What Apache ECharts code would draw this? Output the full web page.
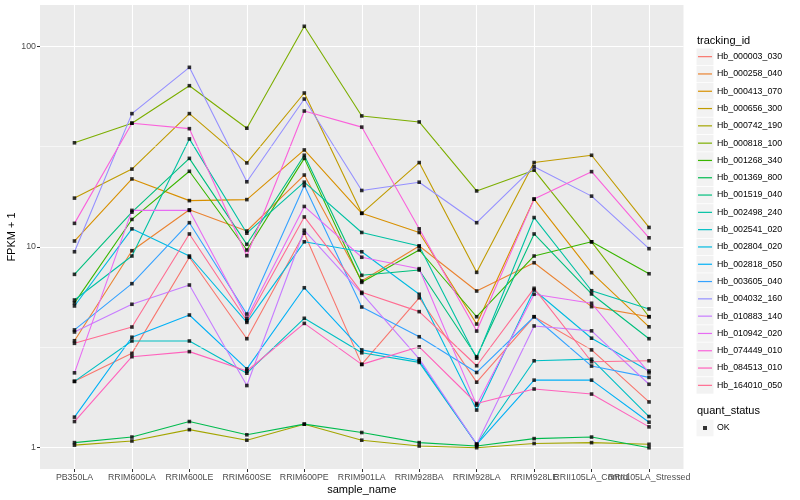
<!DOCTYPE html>
<html><head><meta charset="utf-8">
<script src="https://cdn.jsdelivr.net/npm/echarts@6/dist/echarts.min.js"></script>
<style>html,body{margin:0;padding:0;background:#fff}#c{width:800px;height:500px}</style>
</head><body><div id="c"></div>
<script>
const categories = ['PB350LA','RRIM600LA','RRIM600LE','RRIM600SE','RRIM600PE','RRIM901LA','RRIM928BA','RRIM928LA','RRIM928LE','RRII105LA_Control','RRII105LA_Stressed'];
const trackingIds = ['Hb_000003_030','Hb_000258_040','Hb_000413_070','Hb_000656_300','Hb_000742_190','Hb_000818_100','Hb_001268_340','Hb_001369_800','Hb_001519_040','Hb_002498_240','Hb_002541_020','Hb_002804_020','Hb_002818_050','Hb_003605_040','Hb_004032_160','Hb_010883_140','Hb_010942_020','Hb_074449_010','Hb_084513_010','Hb_164010_050'];
const hb_000003_030 = [2.14, 2.95, 8.88, 3.49, 11.7, 2.60, 5.58, 2.12, 4.49, 3.07, 1.69];
const hb_000258_040 = [3.41, 9.57, 15.3, 12.0, 22.8, 6.77, 10.1, 6.03, 8.34, 5.04, 4.49];
const hb_000413_070 = [10.7, 21.8, 17.0, 17.2, 30.4, 14.7, 11.8, 4.13, 17.3, 7.44, 4.0];
const hb_000656_300 = [17.5, 24.4, 46.1, 26.2, 58.4, 14.7, 26.3, 7.47, 26.3, 28.6, 12.5];
const hb_000742_190 = [1.03, 1.08, 1.23, 1.09, 1.31, 1.09, 1.02, 1.0, 1.05, 1.06, 1.04];
const hb_000818_100 = [33.0, 41.3, 63.5, 39.0, 125.5, 44.9, 41.9, 19.0, 24.1, 10.6, 4.49];
const hb_001268_340 = [5.26, 13.7, 23.8, 9.65, 27.6, 6.66, 9.65, 4.49, 9.01, 10.6, 7.35];
const hb_001369_800 = [1.06, 1.13, 1.35, 1.16, 1.31, 1.19, 1.06, 1.02, 1.11, 1.13, 1.0];
const hb_001519_040 = [7.30, 14.9, 27.6, 10.3, 28.6, 7.22, 7.67, 2.84, 11.6, 5.83, 3.49];
const hb_002498_240 = [5.44, 9.01, 34.5, 11.7, 21.0, 11.8, 10.1, 2.79, 14.0, 6.05, 4.91];
const hb_002541_020 = [2.14, 3.40, 3.40, 2.35, 4.41, 2.97, 2.66, 1.04, 2.71, 2.76, 1.43];
const hb_002804_020 = [5.08, 12.3, 9.01, 4.21, 10.6, 9.46, 5.81, 1.54, 6.10, 3.51, 2.41];
const hb_002818_050 = [1.42, 3.55, 4.58, 2.47, 6.26, 3.07, 2.71, 1.04, 2.17, 2.17, 1.34];
const hb_003605_040 = [3.86, 6.56, 13.2, 4.63, 20.2, 5.02, 3.57, 2.37, 4.49, 2.55, 2.24];
const hb_004032_160 = [9.46, 46.1, 78.4, 21.1, 54.5, 19.1, 21.0, 13.2, 25.1, 17.9, 9.8];
const hb_010883_140 = [3.77, 5.18, 6.46, 2.04, 12.1, 5.87, 2.77, 1.04, 4.04, 3.82, 2.07];
const hb_010942_020 = [2.36, 15.2, 15.2, 4.41, 15.9, 8.88, 7.79, 1.63, 5.81, 5.24, 2.36];
const hb_074449_010 = [13.1, 41.3, 38.8, 9.04, 47.5, 39.5, 12.3, 3.81, 17.3, 23.7, 11.1];
const hb_084513_010 = [1.35, 2.84, 3.01, 2.41, 4.16, 2.60, 3.18, 1.66, 1.96, 1.85, 1.27];
const hb_164010_050 = [3.31, 3.99, 11.6, 4.29, 14.1, 5.94, 4.76, 2.56, 6.22, 2.68, 2.71];
const yTicks = [1, 10, 100];
const yMinorTicks = [3.1623, 31.623];
const quantStatus = ['OK'];

const seriesValues = [hb_000003_030, hb_000258_040, hb_000413_070, hb_000656_300, hb_000742_190, hb_000818_100, hb_001268_340, hb_001369_800, hb_001519_040, hb_002498_240, hb_002541_020, hb_002804_020, hb_002818_050, hb_003605_040, hb_004032_160, hb_010883_140, hb_010942_020, hb_074449_010, hb_084513_010, hb_164010_050];
const palette = ['#F8766D','#EA8331','#D89000','#C09B00','#A3A500','#7CAE00','#39B600','#00BB4E','#00BF7D','#00C1A3','#00BFC4','#00BAE0','#00B0F6','#35A2FF','#9590FF','#C77CFF','#E76BF3','#FA62DB','#FF62BC','#FF6C91'];
const FONT = 'Liberation Sans, Arial, sans-serif';
const xIdx = categories.map((c, i) => i);

const minorGrid = {
  name: '__minor', type: 'line', data: [], silent: true, z: 1, symbol: 'none',
  markLine: {
    silent: true, symbol: ['none', 'none'], label: { show: false }, animation: false,
    lineStyle: { color: '#FFFFFF', width: 0.55, type: 'solid' },
    emphasis: { disabled: true },
    data: yMinorTicks.map(v => ({ yAxis: v }))
  }
};
const lineSeries = trackingIds.map((name, k) => ({
  name: name, type: 'line', data: seriesValues[k].map((v, i) => [i, v]),
  showSymbol: false, symbol: 'none', color: palette[k],
  lineStyle: { width: 1.1, color: palette[k] }, silent: true, z: 2
}));
const pts = [];
seriesValues.forEach(arr => arr.forEach((v, i) => pts.push([i, v])));
const pointSeries = { name: 'OK', type: 'scatter', data: pts, symbol: 'rect', symbolSize: 3.6, itemStyle: { color: '#000' }, silent: true, z: 3 };

const chart = echarts.init(document.getElementById('c'), null, { renderer: 'canvas' });
chart.setOption({
  animation: false,
  backgroundColor: '#fff',
  grid: [
    { left: 40, right: 116.5, top: 5, bottom: 31, show: true, backgroundColor: '#EBEBEB', borderWidth: 0 },
    { left: 45.7455, right: 122.25, top: 5, bottom: 31, show: false }
  ],
  xAxis: [{
    type: 'value', min: -0.6, max: 10.6, gridIndex: 0,
    axisLine: { show: false, onZero: false },
    axisTick: { show: true, length: 3, lineStyle: { color: '#333333', width: 1 }, customValues: xIdx },
    axisLabel: { show: false, customValues: xIdx },
    splitLine: { show: true, lineStyle: { color: '#FFFFFF', width: 1.1 } }
  }, {
    type: 'category', data: categories, gridIndex: 1, boundaryGap: true,
    axisLine: { show: false, onZero: false }, axisTick: { show: false }, splitLine: { show: false },
    axisLabel: { interval: 0, color: '#4D4D4D', fontSize: 8.8, fontFamily: FONT, margin: 4, hideOverlap: false }
  }],
  yAxis: [{
    type: 'log', logBase: 10, min: 0.7834, max: 160.2, gridIndex: 0, position: 'left',
    axisLine: { show: false, onZero: false },
    axisTick: { show: true, length: 3, lineStyle: { color: '#333333', width: 1 }, customValues: yTicks },
    axisLabel: { customValues: yTicks, color: '#4D4D4D', fontSize: 8.8, fontFamily: FONT, margin: 4 },
    splitLine: { show: true, lineStyle: { color: '#FFFFFF', width: 1.1 } }
  }, {
    type: 'value', gridIndex: 1, min: 0, max: 1, show: false, axisLine: { onZero: false }
  }],
  legend: [{
    data: trackingIds, orient: 'vertical', left: 696.5, top: 48.45, padding: 0,
    itemWidth: 17, itemHeight: 16.5, itemGap: 0.8, icon: 'rect', selectedMode: false,
    itemStyle: { color: '#F2F2F2', borderWidth: 0 },
    textStyle: { color: 'rgba(0,0,0,0)', fontSize: 8.8, fontFamily: FONT }
  }, {
    data: trackingIds, orient: 'vertical', left: 698, top: 48, padding: 0,
    itemWidth: 14, itemHeight: 1.2, itemGap: 0, icon: 'rect', selectedMode: false,
    itemStyle: { borderWidth: 0 },
    textStyle: { color: '#000', fontSize: 8.8, fontFamily: FONT, lineHeight: 17.3 }
  }, {
    data: quantStatus, orient: 'vertical', left: 696.5, top: 419.75, padding: 0,
    itemWidth: 17, itemHeight: 16.5, itemGap: 0, icon: 'rect', selectedMode: false,
    itemStyle: { color: '#F2F2F2', borderWidth: 0 },
    textStyle: { color: 'rgba(0,0,0,0)', fontSize: 8.8, fontFamily: FONT }
  }, {
    data: quantStatus, orient: 'vertical', left: 703, top: 419.35, padding: 0,
    itemWidth: 4, itemHeight: 4, itemGap: 0, icon: 'rect', selectedMode: false,
    itemStyle: { color: '#000', borderWidth: 0 },
    textStyle: { color: '#000', fontSize: 8.8, fontFamily: FONT, lineHeight: 17.3, padding: [0, 0, 0, 5] }
  }],
  graphic: [
    { type: 'text', x: 361.75, y: 490, silent: true, style: { text: 'sample_name', fontSize: 11, fontFamily: FONT, fill: '#000', align: 'center', verticalAlign: 'middle' } },
    { type: 'text', x: 12, y: 237, rotation: Math.PI / 2, silent: true, style: { text: 'FPKM + 1', fontSize: 11, fontFamily: FONT, fill: '#000', align: 'center', verticalAlign: 'middle' } },
    { type: 'text', x: 697, y: 40.5, silent: true, style: { text: 'tracking_id', fontSize: 11, fontFamily: FONT, fill: '#000', align: 'left', verticalAlign: 'middle' } },
    { type: 'text', x: 697, y: 411, silent: true, style: { text: 'quant_status', fontSize: 11, fontFamily: FONT, fill: '#000', align: 'left', verticalAlign: 'middle' } }
  ],
  series: [minorGrid].concat(lineSeries, [pointSeries])
});
</script></body></html>
